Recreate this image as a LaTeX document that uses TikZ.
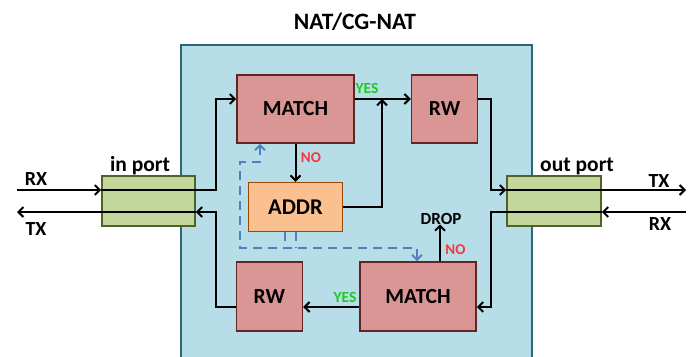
\documentclass[tikz,border=0pt]{standalone}
\usepackage{fontspec}
\setmainfont{Carlito}
\usetikzlibrary{positioning}
\usetikzlibrary{arrows.meta}
\definecolor{natfill}{HTML}{B7DEE8}
\definecolor{natedge}{HTML}{2B6777}
\definecolor{redfill}{HTML}{DA9694}
\definecolor{rededge}{HTML}{632523}
\definecolor{addrfill}{HTML}{FAC090}
\definecolor{addredge}{HTML}{984807}
\definecolor{portfill}{HTML}{C3D69B}
\definecolor{portedge}{HTML}{4F6228}
\definecolor{dashblue}{HTML}{4F81BD}
\definecolor{yesgreen}{HTML}{22C822}
\definecolor{nored}{HTML}{F23A3A}
\tikzstyle{line} = [draw, line width=2pt, -{Straight Barb[length=5pt,width=10pt]}]
\tikzstyle{dashline} = [draw=dashblue, line width=2pt, dash pattern=on 9pt off 6pt,
{Straight Barb[length=5pt,width=10pt]}-{Straight Barb[length=5pt,width=10pt]}]

\begin{document}
\begin{tikzpicture}[x=1pt, y=-1pt, node distance=56pt,
	block/.style={draw=rededge, fill=redfill, line width=1.6pt, inner sep=0pt,
		font=\bfseries\fontsize{21.5}{24}\selectfont},
	port/.style={draw=portedge, fill=portfill, line width=1.6pt, inner sep=0pt,
		minimum height=50pt},
	tag/.style={font=\bfseries\fontsize{20}{22}\selectfont, inner sep=0pt},
	yes/.style={text=yesgreen, font=\bfseries\fontsize{15.5}{17}\selectfont, inner sep=0pt},
	no/.style={text=nored, font=\bfseries\fontsize{15}{17}\selectfont, inner sep=0pt}]
	\useasboundingbox (0,0) rectangle (693,356);
	\clip (0,0) rectangle (693,356);
	%% Frame
	\node [draw=natedge, fill=natfill, line width=1.6pt, minimum width=351pt,
		minimum height=320pt] (nat) at (356.5,205) {};
	\node [font=\bfseries\fontsize{23.5}{26}\selectfont] (title) at (355,22) {NAT/CG-NAT};
	%% Blocks
	\node [block, minimum width=117pt, minimum height=68pt] (match1) at (295.5,109) {MATCH};
	\node [block, minimum width=66pt, minimum height=68pt, right=of match1] (rw1) {RW};
	\node [block, draw=addredge, fill=addrfill, minimum width=94pt, minimum height=49pt,
		below=38pt of match1, font=\bfseries\fontsize{22.5}{24}\selectfont] (addr) {ADDR};
	\node [block, minimum width=116pt, minimum height=69pt] (match2) at (418,296.5) {MATCH};
	\node [block, minimum width=66pt, minimum height=69pt, left=of match2] (rw2) {RW};
	\node [port, minimum width=93pt] (inport) at (148.5,201) {};
	\node [port, minimum width=94pt] (outport) at (554,201) {};
	\node [tag, font=\bfseries\fontsize{21.5}{23}\selectfont] (inlabel) at (140,166) {in port};
	\node [tag, font=\bfseries\fontsize{21.5}{23}\selectfont] (outlabel) at (577,166) {out port};
	\node [tag, font=\bfseries\fontsize{17}{19}\selectfont] (drop) at (441,218.5) {DROP};
	%% Helper points
	\coordinate (upper) at (0,99);
	\coordinate (lower) at (0,307);
	\coordinate (laneA) at (0,190);
	\coordinate (laneB) at (0,212);
	\coordinate (jl) at (216,0);
	\coordinate (jm) at (382,0);
	\coordinate (jr) at (491,0);
	\coordinate (dropx) at (440,0);
	\coordinate (rxin) at (17,190);
	\coordinate (txin) at (17,212);
	\coordinate (txout) at (686,190);
	\coordinate (rxout) at (686,212);
	%% Arrows
	\path [line] (rxin) -- (inport.west |- laneA);
	\draw [line width=2pt] (inport.west |- laneA) -- (inport.east |- laneA);
	\path [line] (inport.east |- laneA) -| (jl |- laneA) |- (match1.west |- upper);
	\path [line] (match1.east |- upper) -- (rw1.west |- upper);
	\path [line] (match1.south) -- (addr.north);
	\path [line] (addr.east) -| (jm |- upper);
	\path [line] (rw1.east |- upper) -| (jr |- laneA) -- (outport.west |- laneA);
	\draw [line width=2pt] (outport.west |- laneA) -- (outport.east |- laneA);
	\path [line] (outport.east |- laneA) -- (txout);
	\path [line] (rxout) -- (outport.east |- laneB);
	\draw [line width=2pt] (outport.east |- laneB) -- (outport.west |- laneB);
	\path [line] (outport.west |- laneB) -| (jr |- laneB) |- (match2.east |- lower);
	\path [line] (match2.west |- lower) -- (rw2.east |- lower);
	\path [line] (match2.north -| dropx) -- (drop.south -| dropx);
	\path [line] (rw2.west |- lower) -| (jl |- laneB) -- (inport.east |- laneB);
	\draw [line width=2pt] (inport.east |- laneB) -- (inport.west |- laneB);
	\path [line] (inport.west |- laneB) -- (txin);
	%% Labels
	\node [tag] (rxa) at (36,179) {RX};
	\node [tag] (txa) at (36,229) {TX};
	\node [tag] (txb) at (659,181) {TX};
	\node [tag] (rxb) at (660,224) {RX};
	\node [yes] (yes1) at (367,88) {YES};
	\node [yes] (yes2) at (345,297) {YES};
	\node [no] (no1) at (311,158) {NO};
	\node [no] (no2) at (455.5,250) {NO};
	%% Address lookup loop
	\coordinate (d1) at (260,0);
	\coordinate (loopl) at (240,162);
	\coordinate (loopb) at (417,248);
	\coordinate (t1) at (285,0);
	\coordinate (t2) at (296,0);
	\path [dashline] (match1.south -| d1) |- (loopl) |- (loopb) -- (match2.north -| loopb);
	\draw [draw=dashblue, line width=2pt, dash pattern=on 9pt off 6pt] (addr.south -| t1) -- (t1 |- loopb);
	\draw [draw=dashblue, line width=2pt, dash pattern=on 9pt off 6pt] (addr.south -| t2) -- (t2 |- loopb);
\end{tikzpicture}
\end{document}
